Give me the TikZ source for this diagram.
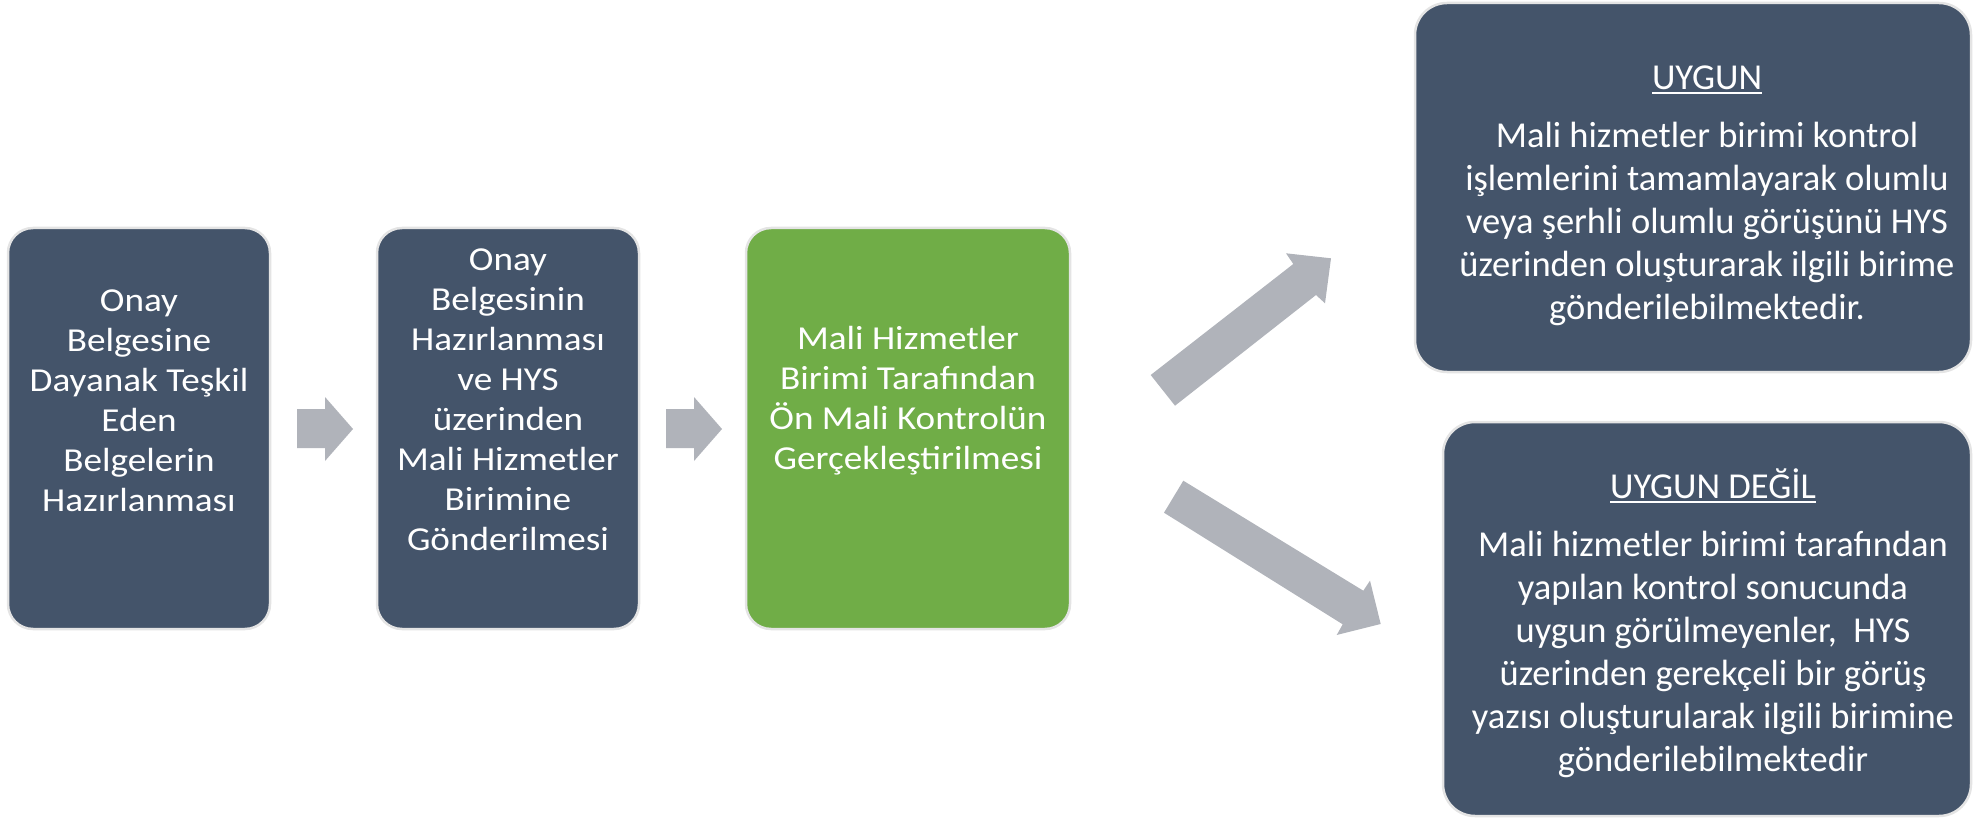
\documentclass[tikz,border=0pt]{standalone}
\usepackage{fontspec}
\setmainfont{Carlito}
\newfontfamily\lfont[FakeStretch=1.11]{Carlito}
\newfontfamily\rfont{Carlito}
\definecolor{boxblue}{HTML}{44546A}
\definecolor{boxgreen}{HTML}{70AD47}
\definecolor{bordergray}{HTML}{E4E4E4}
\definecolor{arrowgray}{HTML}{B0B3BA}
\newcommand\myul[1]{\setbox0\hbox{#1}\rlap{\rule[-4.5pt]{\wd0}{2pt}}\box0}
\begin{document}
\begin{tikzpicture}[x=1pt,y=-1pt,
  stepbox/.style={draw=bordergray, line width=2.5pt, fill=boxblue, rounded corners=25pt, inner sep=0pt},
  bigbox/.style={draw=bordergray, line width=2.5pt, fill=boxblue, rounded corners=32pt, inner sep=0pt},
  ltext/.style={text=white, align=center, font=\lfont\fontsize{33.5}{40}\selectfont, inner sep=0pt},
  rtext/.style={text=white, align=center, font=\rfont\fontsize{36.5}{43}\selectfont, inner sep=0pt},
  blockarrow/.style={fill=arrowgray}]
\useasboundingbox (0,0) rectangle (1973,818);
% boxes
\node[stepbox, minimum width=262pt, minimum height=401pt] (b1) at (139,428.5) {};
\node[stepbox, minimum width=262pt, minimum height=401pt] (b2) at (508,428.5) {};
\node[stepbox, fill=boxgreen, minimum width=324pt, minimum height=401pt] (b3) at (908,428.5) {};
\node[bigbox, minimum width=556pt, minimum height=369pt] (tr) at (1693,187.5) {};
\node[bigbox, minimum width=528pt, minimum height=394pt] (br) at (1707,619) {};
% texts
\node[ltext] (t1) at (139,401) {Onay\\Belgesine\\Dayanak Teşkil\\Eden\\Belgelerin\\Hazırlanması};
\node[ltext] (t2) at (508,400) {Onay\\Belgesinin\\Hazırlanması\\ve HYS\\üzerinden\\Mali Hizmetler\\Birimine\\Gönderilmesi};
\node[ltext] (t3) at (908,401) {Mali Hizmetler\\Birimi Tarafından\\Ön Mali Kontrolün\\Gerçekleştirilmesi};
\node[rtext] (ttr) at (1707,196) {\myul{UYGUN}\\[15pt]Mali hizmetler birimi kontrol\\işlemlerini tamamlayarak olumlu\\veya şerhli olumlu görüşünü HYS\\üzerinden oluşturarak ilgili birime\\gönderilebilmektedir.};
\node[rtext] (tbr) at (1713,623.5) {\myul{UYGUN DEĞİL}\\[15pt]Mali hizmetler birimi tarafından\\yapılan kontrol sonucunda\\uygun görülmeyenler,\ \ HYS\\üzerinden gerekçeli bir görüş\\yazısı oluşturularak ilgili birimine\\gönderilebilmektedir};
% block arrows
\fill[blockarrow] (297,409) -- (325,409) -- (325,397) -- (353,429) -- (325,461) -- (325,448) -- (297,448) -- cycle;
\fill[blockarrow] (666,409) -- (694,409) -- (694,397) -- (722,429) -- (694,461) -- (694,448) -- (666,448) -- cycle;
\fill[blockarrow] (1150.7,375) -- (1293.3,264) -- (1286,253.3) -- (1331,258.3) -- (1325,303.3) -- (1316,295) -- (1175,405.7) -- cycle;
\fill[blockarrow] (1183.3,480.7) -- (1363.3,590.7) -- (1370,580.7) -- (1380.7,624) -- (1336.7,635) -- (1342.7,624.3) -- (1164,512.7) -- cycle;
\end{tikzpicture}
\end{document}
